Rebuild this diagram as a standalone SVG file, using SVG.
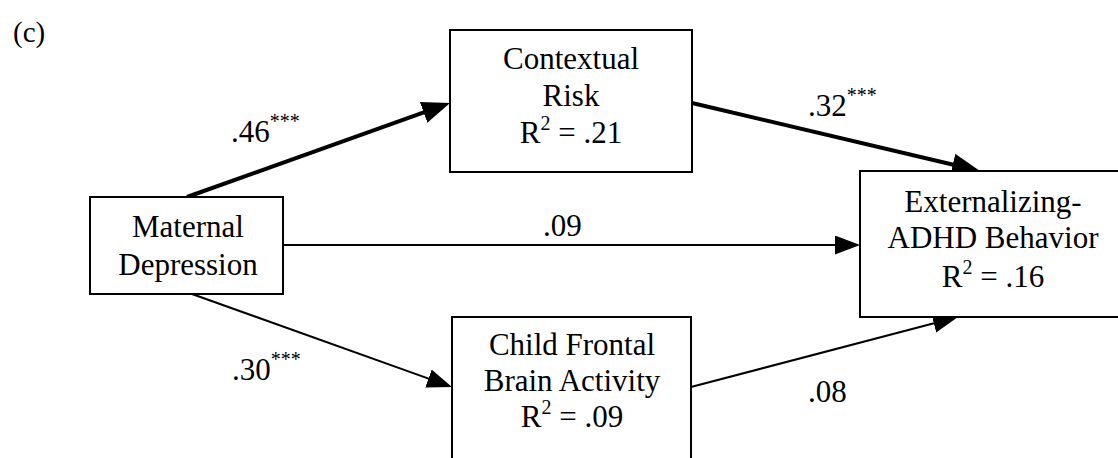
<svg xmlns="http://www.w3.org/2000/svg" width="1118" height="458" viewBox="0 0 1118 458">
<defs>
<style>
.box{fill:#fff;stroke:#000;stroke-width:2}
.t{font-family:"Liberation Serif","Times New Roman",serif;font-size:31px;fill:#000;text-anchor:middle}
.l{font-family:"Liberation Serif","Times New Roman",serif;font-size:31px;fill:#000}
.sup{font-size:20px}
.thick{stroke:#000;stroke-width:4;fill:none;marker-end:url(#ahb)}
.thin{stroke:#000;stroke-width:2;fill:none;marker-end:url(#ah)}
</style>
<marker id="ah" markerUnits="userSpaceOnUse" markerWidth="26" markerHeight="20" refX="15" refY="9.5" orient="auto">
<path d="M0,0 L25,9.5 L0,19 z" fill="#000"/>
</marker>
<marker id="ahb" markerUnits="userSpaceOnUse" markerWidth="30" markerHeight="24" refX="18" refY="11" orient="auto">
<path d="M0,0 L28,11 L0,22 z" fill="#000"/>
</marker>
</defs>
<rect width="1118" height="458" fill="#fff"/>
<text class="l" x="13" y="42" style="font-size:29px">(c)</text>
<g id="connectors">
<line class="thick" x1="187" y1="197" x2="440.6" y2="106.4"/>
<line class="thick" x1="692" y1="103" x2="970.3" y2="168.7"/>
<line class="thin" x1="283" y1="245" x2="850" y2="245"/>
<line class="thin" x1="192" y1="294" x2="442.6" y2="383.6"/>
<line class="thin" x1="691" y1="387" x2="948.3" y2="319.5"/>
<text class="l" x="231" y="142">.46<tspan class="sup" dy="-14">***</tspan></text>
<text class="l" x="808" y="116">.32<tspan class="sup" dy="-14">***</tspan></text>
<text class="l" x="543" y="236">.09</text>
<text class="l" x="232" y="380">.30<tspan class="sup" dy="-14">***</tspan></text>
<text class="l" x="808" y="402">.08</text>
</g>
<g id="maternal">
<rect class="box" x="90" y="197" width="193" height="97"/>
<text class="t" x="188" y="237">Maternal</text>
<text class="t" x="188" y="275">Depression</text>
</g>
<g id="contextual">
<rect class="box" x="450" y="30" width="242" height="142"/>
<text class="t" x="571" y="69">Contextual</text>
<text class="t" x="571" y="106">Risk</text>
<text class="t" x="571" y="143">R<tspan class="sup" dy="-13">2</tspan><tspan dy="13"> = .21</tspan></text>
</g>
<g id="externalizing">
<rect class="box" x="860" y="171" width="266" height="146"/>
<text class="t" x="993" y="212">Externalizing-</text>
<text class="t" x="993" y="248">ADHD Behavior</text>
<text class="t" x="993" y="287">R<tspan class="sup" dy="-13">2</tspan><tspan dy="13"> = .16</tspan></text>
</g>
<g id="child">
<rect class="box" x="452" y="317" width="239" height="160"/>
<text class="t" x="572" y="355">Child Frontal</text>
<text class="t" x="572" y="391">Brain Activity</text>
<text class="t" x="572" y="427">R<tspan class="sup" dy="-13">2</tspan><tspan dy="13"> = .09</tspan></text>
</g>
</svg>
